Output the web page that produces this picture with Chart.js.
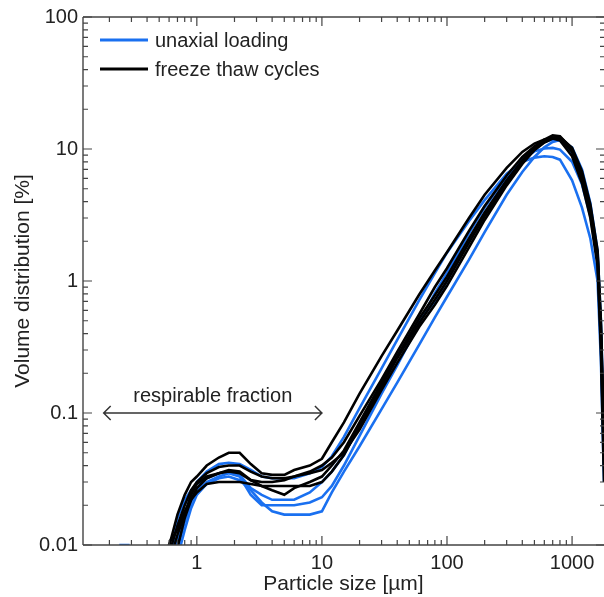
<!DOCTYPE html>
<html>
<head>
<meta charset="utf-8">
<script src="https://cdn.jsdelivr.net/npm/chart.js@4.4.1/dist/chart.umd.min.js"></script>
<style>
html,body{margin:0;padding:0;background:#fff;}
#wrap{width:604px;height:597px;position:relative;}
</style>
</head>
<body>
<div id="wrap"><canvas id="c" width="604" height="597"></canvas></div>
<script>
// ---- data ----
const xValues = [0.24,0.29,0.55,0.62,0.7,0.8,0.9,1.0,1.2,1.5,1.8,2.2,2.7,3.3,4,5,6,8,10,12,15,20,30,40,60,80,100,150,200,300,400,500,600,700,800,1000,1200,1400,1600,1700,1800];

const blue1 = [null,null,null,0.008,0.011,0.017,0.024,0.03,0.036,0.041,0.042,0.041,0.037,0.033,0.032,0.032,0.032,0.035,0.039,0.047,0.066,0.109,0.218,0.358,0.716,1.15,1.64,2.85,4.1,6.5,8.0,8.6,8.8,8.7,8.3,5.8,3.6,2.1,1.0,0.25,0.03];
const blue2 = [null,null,null,null,0.0095,0.015,0.021,0.026,0.03,0.033,0.035,0.033,0.024,0.02,0.02,0.02,0.02,0.021,0.023,0.028,0.04,0.067,0.14,0.23,0.48,0.81,1.15,2.3,3.6,6.2,8.3,9.6,10.1,10.2,9.9,8.0,5.4,3.1,1.4,0.35,0.04];
const blue3 = [null,null,null,null,0.008,0.013,0.019,0.024,0.029,0.032,0.033,0.031,0.026,0.021,0.018,0.017,0.017,0.017,0.018,0.025,0.036,0.056,0.107,0.17,0.33,0.53,0.76,1.45,2.35,4.5,6.7,8.7,10.3,11.3,11.7,10.3,7.0,3.9,1.7,0.5,0.08];
const blue4 = [0.01,0.01,null,0.008,0.016,0.022,0.026,0.029,0.032,0.035,0.036,0.034,0.027,0.024,0.022,0.022,0.022,0.025,0.03,0.036,0.048,0.08,0.16,0.27,0.5,0.7,1.0,2.0,3.2,5.8,8.4,10.2,11.3,11.8,11.6,9.2,6.0,3.3,1.5,0.4,0.05];

const black1 = [null,null,0.007,0.011,0.017,0.024,0.03,0.033,0.04,0.046,0.05,0.05,0.041,0.035,0.034,0.034,0.037,0.04,0.045,0.06,0.085,0.14,0.27,0.42,0.79,1.2,1.65,3.0,4.5,7.2,9.5,11.0,11.8,12.0,11.6,8.8,5.5,3.0,1.3,0.3,0.03];
const black2 = [null,null,null,0.0095,0.014,0.02,0.026,0.03,0.035,0.039,0.04,0.04,0.036,0.033,0.032,0.032,0.033,0.036,0.04,0.046,0.06,0.095,0.18,0.29,0.56,0.9,1.25,2.4,3.7,6.3,8.7,10.5,11.6,12.2,12.0,9.5,6.0,3.3,1.4,0.35,0.04];
const black3 = [null,null,null,null,0.0095,0.016,0.022,0.027,0.032,0.035,0.037,0.036,0.031,0.028,0.026,0.024,0.027,0.03,0.033,0.04,0.052,0.085,0.17,0.27,0.52,0.78,1.08,2.1,3.3,5.8,8.2,10.3,11.8,12.7,12.5,10.0,6.5,3.6,1.6,0.45,0.06];
const black4 = [null,null,0.008,0.011,0.013,0.018,0.022,0.025,0.029,0.03,0.03,0.03,0.029,0.028,0.028,0.028,0.028,0.028,0.03,0.036,0.048,0.08,0.16,0.26,0.48,0.72,1.0,1.95,3.1,5.5,7.9,9.9,11.3,12.2,12.3,10.2,6.8,3.8,1.7,0.5,0.07];
const black5 = [null,null,null,0.008,0.012,0.017,0.024,0.029,0.033,0.035,0.036,0.035,0.031,0.03,0.03,0.031,0.033,0.035,0.037,0.042,0.05,0.075,0.15,0.24,0.45,0.66,0.92,1.8,2.9,5.3,7.7,9.8,11.2,12.0,12.0,9.8,6.3,3.4,1.5,0.4,0.05];

const blueSeries = [blue1, blue2, blue3, blue4];
const blackSeries = [black1, black2, black3, black4, black5];

const xTickLabels = ['1', '10', '100', '1000'];
const yTickLabels = ['0.01', '0.1', '1', '10', '100'];
const legendLabels = ['unaxial loading', 'freeze thaw cycles'];
const xTitle = 'Particle size [\u00b5m]';
const yTitle = 'Volume distribution [%]';
const arrowText = 'respirable fraction';
const arrowFrom = 0.18, arrowTo = 10, arrowLevel = 0.1;

// ---- styles ----
const BLUE = '#1a70f0';
const BLACK = '#000000';
const TEXT = '#222222';
const AXIS = '#444444';
const FONT = '"Liberation Sans", Arial, Helvetica, sans-serif';

function toPoints(arr) {
  return xValues.map((x, i) => ({ x: x, y: arr[i] }));
}

const datasets = [];
blueSeries.forEach(s => datasets.push({
  data: toPoints(s), borderColor: BLUE, borderWidth: 2.6, pointRadius: 0,
  tension: 0, fill: false, spanGaps: false, order: 2
}));
blackSeries.forEach(s => datasets.push({
  data: toPoints(s), borderColor: BLACK, borderWidth: 2.6, pointRadius: 0,
  tension: 0, fill: false, spanGaps: false, order: 1
}));

function decadeLabel(v, labels) {
  for (const l of labels) {
    if (Math.abs(Number(l) - v) / Number(l) < 1e-6) return l;
  }
  return '';
}

const framePlugin = {
  id: 'frame',
  afterDatasetsDraw(chart) {
    const { ctx, chartArea: a, scales: { x, y } } = chart;
    ctx.save();
    // box (right edge lies at the canvas border)
    ctx.strokeStyle = AXIS;
    ctx.lineWidth = 1.4;
    ctx.beginPath();
    ctx.moveTo(a.left, a.top); ctx.lineTo(a.right, a.top);
    ctx.moveTo(a.left, a.bottom); ctx.lineTo(a.right, a.bottom);
    ctx.moveTo(a.left, a.top); ctx.lineTo(a.left, a.bottom);
    ctx.stroke();
    // ticks (inward, all four sides)
    ctx.lineWidth = 1.2;
    ctx.beginPath();
    for (let e = -3; e <= 4; e++) {
      for (let k = 1; k <= 9; k++) {
        const v = k * Math.pow(10, e);
        const len = k === 1 ? 9 : 5;
        if (v >= x.min && v <= x.max) {
          const px = x.getPixelForValue(v);
          ctx.moveTo(px, a.bottom); ctx.lineTo(px, a.bottom - len);
          ctx.moveTo(px, a.top); ctx.lineTo(px, a.top + len);
        }
        if (v >= y.min && v <= y.max) {
          const py = y.getPixelForValue(v);
          ctx.moveTo(a.left, py); ctx.lineTo(a.left + len, py);
          ctx.moveTo(a.right + 1, py); ctx.lineTo(a.right + 1 - len, py);
        }
      }
    }
    ctx.stroke();

    // legend
    const lx0 = a.left + 17, lx1 = a.left + 65;
    const ly = [a.top + 23, a.top + 52];
    const lc = [BLUE, BLACK];
    ctx.font = '20px ' + FONT;
    ctx.textBaseline = 'middle';
    ctx.textAlign = 'left';
    for (let i = 0; i < 2; i++) {
      ctx.strokeStyle = lc[i];
      ctx.lineWidth = 3;
      ctx.beginPath();
      ctx.moveTo(lx0, ly[i]); ctx.lineTo(lx1, ly[i]);
      ctx.stroke();
      ctx.fillStyle = TEXT;
      ctx.fillText(legendLabels[i], lx1 + 7, ly[i] + 1);
    }

    // respirable fraction arrow
    const ax0 = x.getPixelForValue(arrowFrom);
    const ax1 = x.getPixelForValue(arrowTo);
    const ay = y.getPixelForValue(arrowLevel);
    ctx.strokeStyle = '#333';
    ctx.lineWidth = 1.5;
    ctx.beginPath();
    ctx.moveTo(ax0, ay); ctx.lineTo(ax1, ay);
    ctx.moveTo(ax0 + 7, ay - 7); ctx.lineTo(ax0, ay); ctx.lineTo(ax0 + 7, ay + 7);
    ctx.moveTo(ax1 - 7, ay - 7); ctx.lineTo(ax1, ay); ctx.lineTo(ax1 - 7, ay + 7);
    ctx.stroke();
    ctx.fillStyle = TEXT;
    ctx.textAlign = 'center';
    ctx.textBaseline = 'alphabetic';
    ctx.fillText(arrowText, (ax0 + ax1) / 2, ay - 11);
    ctx.restore();
  }
};

new Chart(document.getElementById('c'), {
  type: 'line',
  data: { datasets: datasets },
  options: {
    responsive: false,
    animation: false,
    devicePixelRatio: 1,
    layout: { padding: { top: 17, right: 0, left: 0, bottom: 0 } },
    plugins: { legend: { display: false }, tooltip: { enabled: false } },
    scales: {
      x: {
        type: 'logarithmic',
        min: 0.123,
        max: 1800,
        grid: { display: false, drawTicks: false },
        border: { display: false },
        ticks: {
          autoSkip: false, maxRotation: 0, minRotation: 0, padding: 6,
          color: TEXT, font: { family: FONT, size: 20 },
          callback: v => decadeLabel(v, xTickLabels)
        },
        title: {
          display: true, text: xTitle, color: TEXT,
          font: { family: FONT, size: 21 }, padding: { top: 0, bottom: 0 }
        },
        afterFit: s => { s.height = 52; s.paddingLeft = 0; s.paddingRight = 0; }
      },
      y: {
        type: 'logarithmic',
        min: 0.01,
        max: 100,
        grid: { display: false, drawTicks: false },
        border: { display: false },
        ticks: {
          autoSkip: false, padding: 5,
          color: TEXT, font: { family: FONT, size: 20 },
          callback: v => decadeLabel(v, yTickLabels)
        },
        title: {
          display: true, text: yTitle, color: TEXT,
          font: { family: FONT, size: 21 }, padding: { top: 11, bottom: 0 }
        },
        afterFit: s => { s.width = 83; s.paddingTop = 0; s.paddingBottom = 0; }
      }
    }
  },
  plugins: [framePlugin]
});
</script>
</body>
</html>
